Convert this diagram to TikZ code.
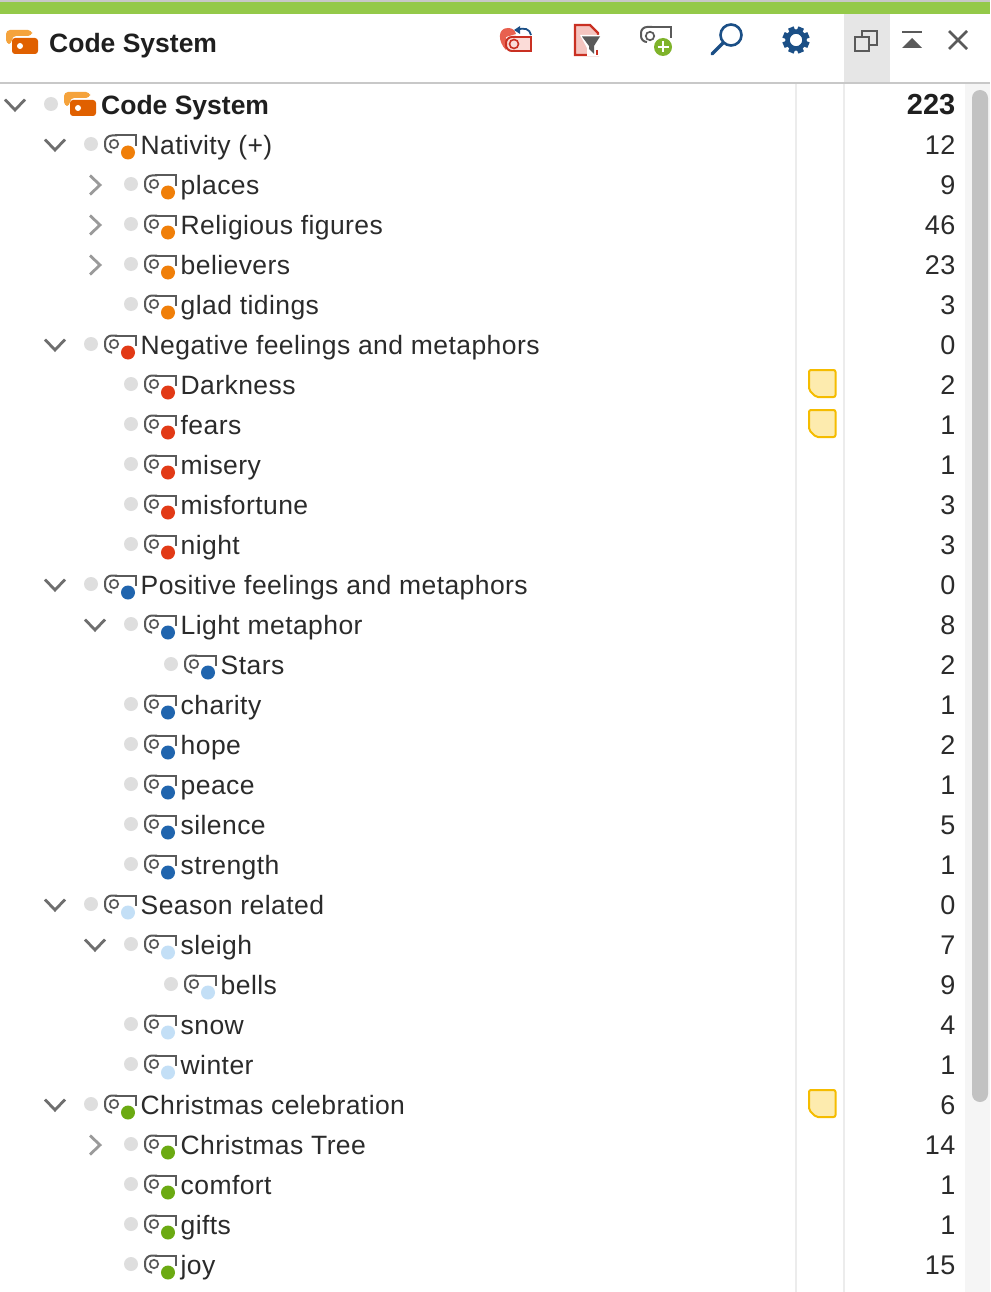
\documentclass[tikz,border=0pt]{standalone}
\usepackage{fontspec}
\setmainfont[LetterSpace=1.6]{Liberation Sans}
\newfontfamily\boldface[LetterSpace=0]{Liberation Sans Bold}
\definecolor{txt}{HTML}{2B2B2B}
\definecolor{icongrey}{HTML}{5A5A5A}
\definecolor{chevgrey}{HTML}{6E6E6E}
\definecolor{chevlight}{HTML}{9A9A9A}
\definecolor{cO}{HTML}{F07F09}
\definecolor{cR}{HTML}{E23A16}
\definecolor{cB}{HTML}{2065AE}
\definecolor{cL}{HTML}{C3DFF6}
\definecolor{cG}{HTML}{6BAA12}
\definecolor{navy}{HTML}{1B4F86}
\definecolor{frontorange}{HTML}{E06000}
\definecolor{backorange}{HTML}{F5A33C}
\definecolor{memofill}{HTML}{FDEBAE}
\definecolor{memoline}{HTML}{F5BC00}
\definecolor{barGreen}{HTML}{94C949}
\definecolor{rule}{HTML}{C8C8C8}
\definecolor{seplight}{HTML}{ECECEC}
\definecolor{selbg}{HTML}{E6E6E6}
\definecolor{track}{HTML}{F5F5F5}
\definecolor{thumb}{HTML}{C2C2C2}
\definecolor{ledgrey}{HTML}{DEDEDE}
\definecolor{redline}{HTML}{C93022}
\definecolor{redsoft}{HTML}{E8604F}
\definecolor{pinka}{HTML}{FBDCD8}
\definecolor{pinkb}{HTML}{F5C5C0}
\definecolor{plusgreen}{HTML}{7FB32B}
\tikzset{
  x=1pt,y=-1pt,
  label/.style={anchor=base west,inner sep=0pt,font=\fontsize{26.5}{30}\selectfont,text=txt},
  boldlabel/.style={anchor=base west,inner sep=0pt,font=\fontsize{26.5}{30}\selectfont\boldface,text=black!88},
  count/.style={anchor=base east,inner sep=0pt,font=\fontsize{27}{30}\selectfont,text=txt},
  boldcount/.style={anchor=base east,inner sep=0pt,font=\fontsize{29}{30}\selectfont\boldface,text=black!88},
  chev/.style={draw=chevgrey,line width=2.8pt},
  chevclosed/.style={draw=chevlight,line width=2.8pt},
  led/.style={fill=ledgrey,draw=none},
  sepline/.style={draw=seplight,line width=2pt},
  memo/.style={draw=memoline,line width=2pt,fill=memofill,rounded corners=2pt},
  tbicon/.style={line width=2pt,draw=icongrey},
}
% \coderow{depth}{row}{label}{count}{colour}{chevron: 0 none, 1 open, 2 closed}
\newcommand{\coderow}[6]{%
  \pgfmathsetmacro{\yy}{105+40*#2}%
  \pgfmathsetmacro{\xx}{40*(#1+1)}%
  \begin{scope}[shift={(\xx,\yy)}]
    \fill[led] (11,-1) circle (7);
    \draw[icongrey,line width=2pt,rounded corners=7pt] (31,7.5) -- (25,7.5) -- (25,-9.5) -- (37,-9.5);
    \draw[icongrey,line width=2pt] (35,-9.5) -- (55.5,-9.5) -- (55.5,1);
    \draw[icongrey,line width=1.7pt] (34,-1) circle (4.2);
    \fill[#5] (48,7.5) circle (7);
    \node[label] (r#2) at (60.5,9.3) {#3};
    \ifnum#6=1 \draw[chev] (-35,-5.5) -- (-25,5) -- (-15,-5.5);\fi
    \ifnum#6=2 \draw[chevclosed] (-30,-9.5) -- (-20,0) -- (-30,9.5);\fi
  \end{scope}
  \node[count] (n#2) at (955.5,\yy+9.3) {#4};
}
\newcommand{\memoicon}[1]{%
  \draw[memo] (809,#1) -- (835.5,#1) -- (835.5,#1+27) -- (816,#1+27) -- (809,#1+20) -- cycle;
}
\newcommand{\csicon}[2]{%
  \begin{scope}[shift={(#1,#2)}]
    \fill[backorange,rounded corners=4pt] (0,14) -- (0,0) -- (26,0) -- (26,6) -- (6,6) -- (6,14) -- cycle;
    \fill[frontorange,rounded corners=3pt] (6,8) -- (32,8) -- (32,24) -- (6,24) -- cycle;
    \fill[white] (14,16) circle (3);
  \end{scope}
}
\begin{document}
\begin{tikzpicture}
\useasboundingbox (0,0) rectangle (990,1292);
\fill[white] (0,0) rectangle (990,1292);
% title bar
\fill[rule] (0,0) rectangle (990,2);
\fill[barGreen] (0,2) rectangle (990,14);
\fill[selbg] (844,14) rectangle (890,82);
\draw[rule,line width=2pt] (0,83) -- (990,83);
% columns
\draw[sepline] (796,84) -- (796,1292);
\draw[sepline] (844,84) -- (844,1292);
\fill[track] (965,84) rectangle (990,1292);
\fill[thumb,rounded corners=8pt] (972,90) rectangle (988,1102);
% header
\csicon{6}{30}
\node[boldlabel] (title) at (49,52.5) {Code System};
% toolbar icons
\fill[redsoft] (506,50) .. controls (498,42) and (497,28) .. (508,28) .. controls (512,28) and (515,30) .. (516,34) -- (506,37) -- cycle;
\draw[redline,line width=2pt,fill=pinka,rounded corners=6pt] (513,51) -- (506,51) -- (506,37) -- (516,37);
\path[fill=pinka] (512,38) rectangle (531,50);
\draw[redline,line width=2pt] (514,37) -- (531,37) -- (531,51) -- (512,51);
\draw[redline,line width=1.6pt] (514,44) circle (4.5);
\draw[navy,line width=1.8pt] (517,30) .. controls (524,27) and (530,29) .. (531,35);
\fill[navy] (514,30) -- (520,26) -- (520,34) -- cycle;
\draw[redline,line width=2.2pt,fill=pinkb] (575,55) -- (575,25) -- (590,25) -- (598,33) -- (598,55) -- cycle;
\fill[white] (580,35) -- (602,35) -- (602,56) -- (587,56) -- (587,48) -- cycle;
\fill[icongrey] (582,36.5) -- (600,36.5) -- (594,46) -- (594,54) -- (589,49) -- (589,46) -- cycle;
\draw[redline,line width=2pt] (597,50) -- (597,55);
\draw[icongrey,line width=2pt,rounded corners=6pt] (647,42) -- (641,42) -- (641,27) -- (652,27);
\draw[icongrey,line width=2pt] (650,27) -- (671,27) -- (671,38);
\draw[icongrey,line width=1.7pt] (650,36) circle (4.2);
\fill[plusgreen] (663,47) circle (9);
\draw[white,line width=2pt] (657.5,47) -- (668.5,47) (663,41.5) -- (663,52.5);
\draw[navy,line width=2.6pt] (731,35) circle (10.5);
\draw[navy,line width=3.4pt,line cap=round] (723,43) -- (712,54);
\foreach \a in {0,45,...,315} {
  \draw[navy,line width=6pt] (796,40) ++(\a+22.5:8) -- ++(\a+22.5:5.5);
}
\draw[navy,line width=4.5pt] (796,40) circle (8.5);
\draw[tbicon] (862,37) -- (862,31) -- (877,31) -- (877,45) -- (869,45);
\draw[tbicon] (855,37) rectangle (869,51);
\draw[icongrey,line width=2pt] (902,32.5) -- (922,32.5);
\fill[icongrey] (902,48) -- (922,48) -- (912,38) -- cycle;
\draw[icongrey,line width=2.6pt] (949,31) -- (967,49) (967,31) -- (949,49);
% root row
\fill[led] (51,104) circle (7);
\csicon{64}{92}
\node[boldlabel] (r0) at (101,114.5) {Code System};
\node[boldcount] (n0) at (955.5,114.5) {223};
\draw[chev] (5,99.5) -- (15,110) -- (25,99.5);
% rows
\coderow{1}{1}{Nativity (+)}{12}{cO}{1}
\coderow{2}{2}{places}{9}{cO}{2}
\coderow{2}{3}{Religious figures}{46}{cO}{2}
\coderow{2}{4}{believers}{23}{cO}{2}
\coderow{2}{5}{glad tidings}{3}{cO}{0}
\coderow{1}{6}{Negative feelings and metaphors}{0}{cR}{1}
\coderow{2}{7}{Darkness}{2}{cR}{0}
\coderow{2}{8}{fears}{1}{cR}{0}
\coderow{2}{9}{misery}{1}{cR}{0}
\coderow{2}{10}{misfortune}{3}{cR}{0}
\coderow{2}{11}{night}{3}{cR}{0}
\coderow{1}{12}{Positive feelings and metaphors}{0}{cB}{1}
\coderow{2}{13}{Light metaphor}{8}{cB}{1}
\coderow{3}{14}{Stars}{2}{cB}{0}
\coderow{2}{15}{charity}{1}{cB}{0}
\coderow{2}{16}{hope}{2}{cB}{0}
\coderow{2}{17}{peace}{1}{cB}{0}
\coderow{2}{18}{silence}{5}{cB}{0}
\coderow{2}{19}{strength}{1}{cB}{0}
\coderow{1}{20}{Season related}{0}{cL}{1}
\coderow{2}{21}{sleigh}{7}{cL}{1}
\coderow{3}{22}{bells}{9}{cL}{0}
\coderow{2}{23}{snow}{4}{cL}{0}
\coderow{2}{24}{winter}{1}{cL}{0}
\coderow{1}{25}{Christmas celebration}{6}{cG}{1}
\coderow{2}{26}{Christmas Tree}{14}{cG}{2}
\coderow{2}{27}{comfort}{1}{cG}{0}
\coderow{2}{28}{gifts}{1}{cG}{0}
\coderow{2}{29}{joy}{15}{cG}{0}
% memos
\memoicon{370}
\memoicon{410}
\memoicon{1090}
\end{tikzpicture}
\end{document}
